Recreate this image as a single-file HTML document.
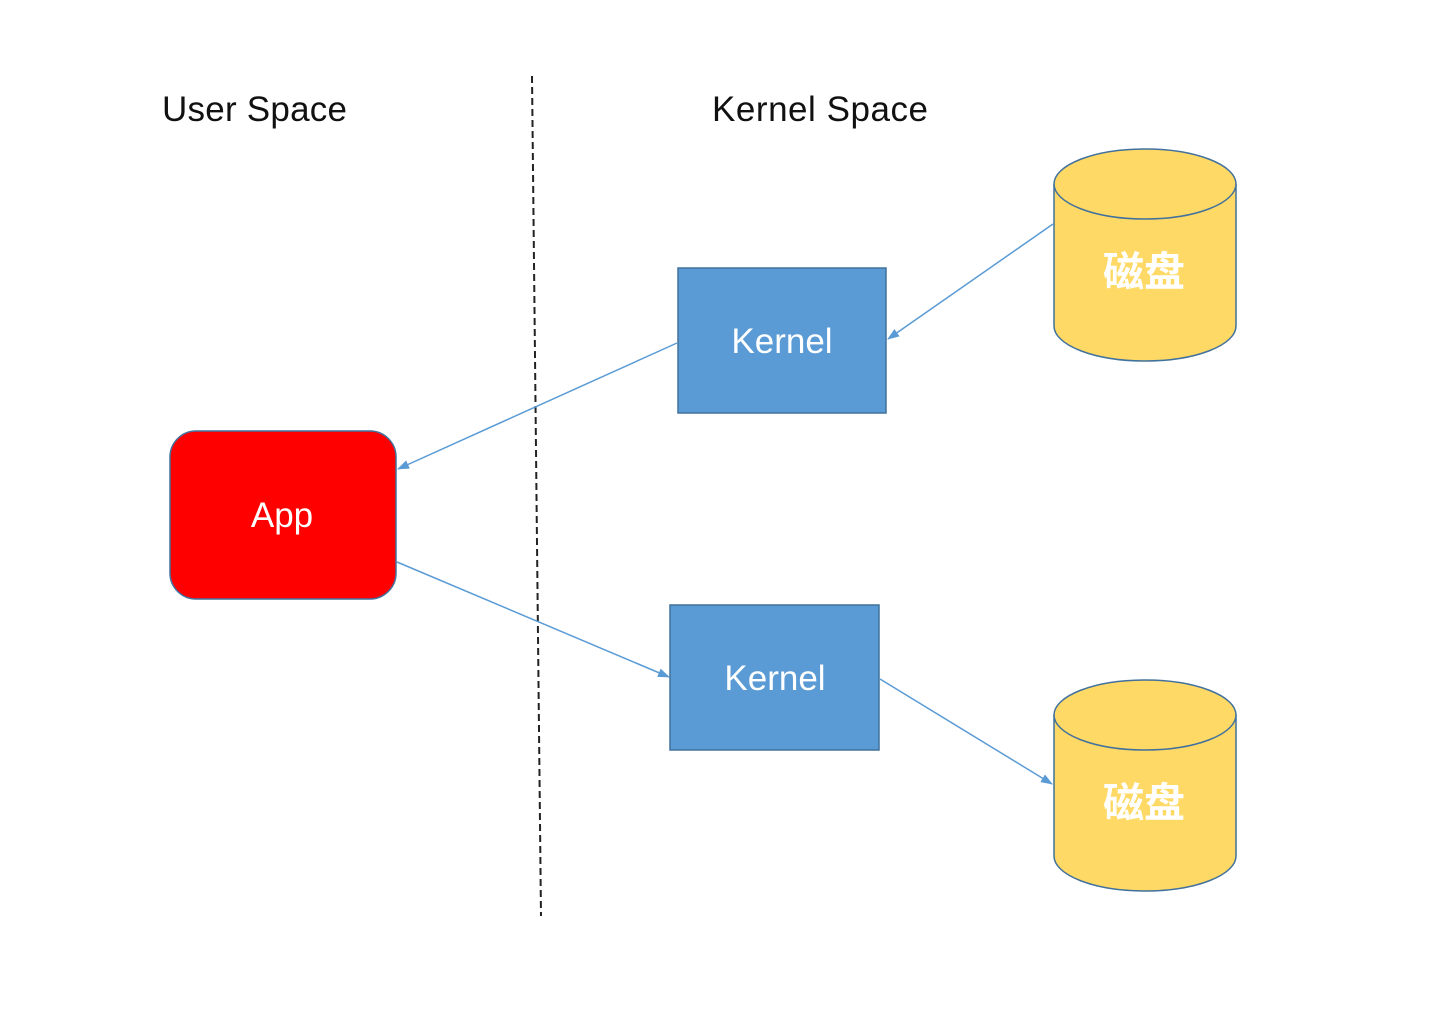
<!DOCTYPE html>
<html><head><meta charset="utf-8"><style>
html,body{margin:0;padding:0;background:#fff;}
svg{display:block}
</style></head><body>
<svg width="1440" height="1029" viewBox="0 0 1440 1029" xmlns="http://www.w3.org/2000/svg">
<defs>
<marker id="a" markerWidth="12" markerHeight="9" refX="11" refY="4.5" orient="auto" markerUnits="userSpaceOnUse">
<path d="M0,0 L12,4.5 L0,9 z" fill="#5b9bd5"/>
</marker>
</defs>
<rect width="1440" height="1029" fill="#fff"/>
<text x="162" y="121" font-family="Liberation Sans, sans-serif" font-size="35" fill="#111" textLength="185">User Space</text>
<text x="712" y="121" font-family="Liberation Sans, sans-serif" font-size="35" fill="#111" textLength="216">Kernel Space</text>
<line x1="532" y1="76" x2="541" y2="916" stroke="#222" stroke-width="2" stroke-dasharray="7,4"/>
<rect x="170" y="431" width="226" height="168" rx="26" fill="#ff0000" stroke="#41719c" stroke-width="1.5"/>
<text x="282" y="527" text-anchor="middle" font-family="Liberation Sans, sans-serif" font-size="35" fill="#fff">App</text>
<rect x="678" y="268" width="208" height="145" fill="#5b9bd5" stroke="#41719c" stroke-width="1.5"/>
<text x="782" y="353" text-anchor="middle" font-family="Liberation Sans, sans-serif" font-size="35" fill="#fff">Kernel</text>
<rect x="670" y="605" width="209" height="145" fill="#5b9bd5" stroke="#41719c" stroke-width="1.5"/>
<text x="775" y="690" text-anchor="middle" font-family="Liberation Sans, sans-serif" font-size="35" fill="#fff">Kernel</text>
<g stroke="#41719c" stroke-width="1.5" fill="#fed966">
<path d="M1054,184 L1054,326 A91,35 0 0 0 1236,326 L1236,184"/>
<ellipse cx="1145" cy="184" rx="91" ry="35"/>
<path d="M1054,715 L1054,856 A91,35 0 0 0 1236,856 L1236,715"/>
<ellipse cx="1145" cy="715" rx="91" ry="35"/>
</g>
<text x="1144" y="286" text-anchor="middle" font-family="Liberation Sans, 'Noto Sans CJK SC', sans-serif" font-size="41" font-weight="bold" fill="#fff">磁盘</text>
<text x="1144" y="817" text-anchor="middle" font-family="Liberation Sans, 'Noto Sans CJK SC', sans-serif" font-size="41" font-weight="bold" fill="#fff">磁盘</text>
<g stroke="#5b9bd5" stroke-width="1.5" fill="none">
<line x1="1053" y1="224" x2="888" y2="339" marker-end="url(#a)"/>
<line x1="677" y1="343" x2="398" y2="469" marker-end="url(#a)"/>
<line x1="397" y1="562" x2="669" y2="677" marker-end="url(#a)"/>
<line x1="880" y1="679" x2="1052" y2="784" marker-end="url(#a)"/>
</g>
</svg>
</body></html>
